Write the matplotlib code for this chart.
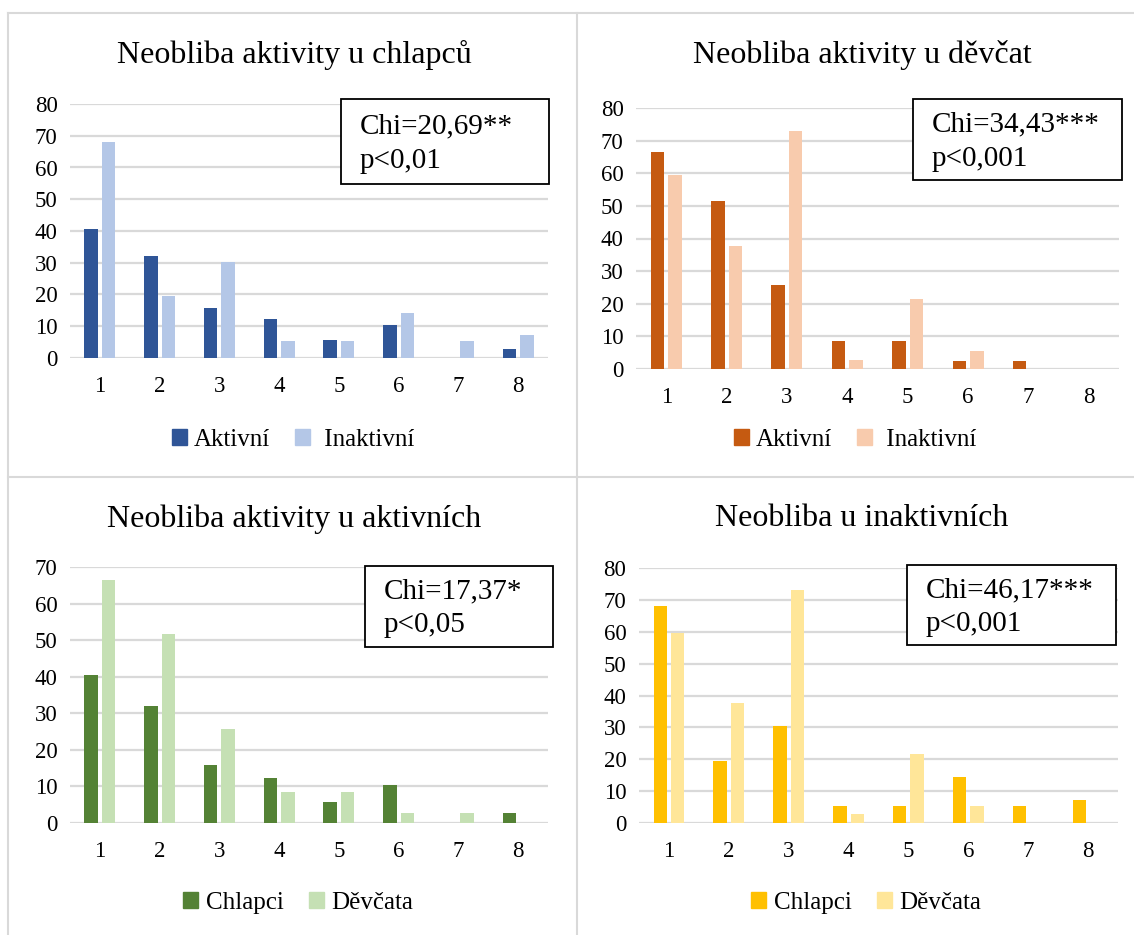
import numpy as np
import matplotlib
matplotlib.use("Agg")
import matplotlib.pyplot as plt
from matplotlib.patches import Rectangle, Patch
from matplotlib.lines import Line2D

plt.rcParams['font.family'] = ['Liberation Serif', 'DejaVu Serif']

W, H = 1134, 935

categories = [1, 2, 3, 4, 5, 6, 7, 8]

# percentages
boys_active = [40.5, 32.1, 15.9, 12.2, 5.7, 10.3, 0, 2.7]
boys_inactive = [68.0, 19.5, 30.3, 5.4, 5.4, 14.3, 5.4, 7.1]
girls_active = [66.4, 51.6, 25.8, 8.6, 8.6, 2.6, 2.6, 0]
girls_inactive = [59.5, 37.8, 73.0, 2.7, 21.6, 5.4, 0, 0]

titles = ['Neobliba aktivity u chlapců', 'Neobliba aktivity u děvčat',
          'Neobliba aktivity u aktivních', 'Neobliba u inaktivních']
chi_texts = ['Chi=20,69**\np<0,01', 'Chi=34,43***\np<0,001',
             'Chi=17,37*\np<0,05', 'Chi=46,17***\np<0,001']
legend_labels = [('Aktivní', ' Inaktivní'), ('Aktivní', ' Inaktivní'),
                 ('Chlapci', 'Děvčata'), ('Chlapci', 'Děvčata')]
series = [(boys_active, boys_inactive), (girls_active, girls_inactive),
          (boys_active, girls_active), (boys_inactive, girls_inactive)]
colors = [('#2F5597', '#B4C7E7'), ('#C55A11', '#F8CBAD'),
          ('#548235', '#C5E0B4'), ('#FFC000', '#FFE699')]
ymax = [80, 80, 70, 80]

# pixel layout: axes (left, right, top, bottom), title y, legend (x, y), chi box
axes_px = [(70, 548, 104, 358), (636, 1119, 108, 369),
           (70, 548, 567, 823), (639, 1118, 568, 823)]
title_px = [(294, 55), (862, 55), (294, 519), (862, 519)]
legend_px = [(293, 440), (855, 440), (298, 903), (866, 903)]
box_px = [(341, 99, 549, 184), (913, 99, 1122, 180),
          (365, 566, 553, 647), (907, 565, 1116, 645)]

grid_c = '#D9D9D9'


def fx(x):
    return x / W


def fy(y):
    return 1 - y / H


fig = plt.figure(figsize=(W / 100, H / 100), dpi=100)

# panel frames
for seg in [((8, 8), (13, H)), ((8, W), (13, 13)), ((577, 577), (13, H)),
            ((8, W), (477, 477))]:
    fig.add_artist(Line2D([fx(v) for v in seg[0]], [fy(v) for v in seg[1]],
                          color=grid_c, lw=1.5, transform=fig.transFigure))

x = np.array(categories)
for i in range(4):
    l, r, t, b = axes_px[i]
    ax = fig.add_axes([fx(l), fy(b), fx(r) - fx(l), fy(t) - fy(b)])
    s1, s2 = series[i]
    c1, c2 = colors[i]
    ax.bar(x - 0.145, s1, 0.225, color=c1)
    ax.bar(x + 0.145, s2, 0.225, color=c2)
    ax.set_xlim(0.5, 8.5)
    ax.set_ylim(0, ymax[i])
    ax.set_yticks(range(0, ymax[i] + 1, 10))
    ax.set_xticks(categories)
    ax.set_xticklabels([str(c) for c in categories])
    ax.tick_params(length=0, labelsize=16.5)
    ax.tick_params(axis='x', pad=13)
    ax.tick_params(axis='y', pad=9)
    for sp in ax.spines.values():
        sp.set_visible(False)
    ax.yaxis.grid(True, color=grid_c, lw=1.6)
    ax.set_axisbelow(True)

    tx, ty = title_px[i]
    fig.text(fx(tx), fy(ty), titles[i], ha='center', va='center', fontsize=23)

    bx0, by0, bx1, by1 = box_px[i]
    fig.add_artist(Rectangle((fx(bx0), fy(by1)), fx(bx1) - fx(bx0), fy(by0) - fy(by1),
                             transform=fig.transFigure, facecolor='white',
                             edgecolor='black', lw=1.3, zorder=2))
    fig.text(fx(bx0 + 19), fy((by0 + by1) / 2 + 2), chi_texts[i], ha='left', va='center',
             fontsize=21, linespacing=1.4, zorder=3)

    lx, ly = legend_px[i]
    handles = [Patch(color=c1), Patch(color=c2)]
    fig.legend(handles, legend_labels[i], loc='center', ncol=2,
               bbox_to_anchor=(fx(lx), fy(ly)), frameon=False, fontsize=18,
               handlelength=0.6, handleheight=0.6, handletextpad=0.3,
               columnspacing=1.0)

fig.savefig('out.png', dpi=100)
